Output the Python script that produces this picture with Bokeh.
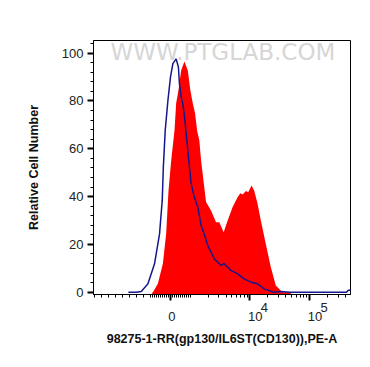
import math
from bokeh.plotting import figure
from bokeh.models import Range1d, FixedTicker, SingleIntervalTicker, Label, CustomJSTickFormatter
from bokeh.embed import file_html
from bokeh.resources import INLINE

# ---- data (x in display units: 1 unit = 1 decade, biexponential-like scale) ----
blue_x = [-0.70, -0.567, -0.483, -0.372, -0.262, -0.178, -0.133, -0.115, -0.083, -0.038,
          0.005, 0.045, 0.10, 0.138, 0.155, 0.183, 0.212, 0.238, 0.295, 0.35,
          0.40, 0.462, 0.517, 0.60, 0.628, 0.738, 0.85, 0.90, 1.017, 1.128,
          1.238, 1.35, 1.462, 1.572, 1.733, 1.85, 2.0, 2.95, 2.98, 3.03]
blue_y = [0, 0, 0.3, 3.5, 11.9, 24.4, 38.4, 52, 67.7, 80.2,
          90, 95.6, 97.6, 94.1, 87.2, 81.6, 78.8, 73.9, 59.3, 45.5,
          40, 35.6, 28, 22, 19.5, 14, 11.2, 12, 9.1, 7.7,
          5.6, 4.2, 3.5, 1.4, 0, 0.3, 0, 0, 0.8, 0.8]

red_x = [-0.30, -0.288, -0.205, -0.122, -0.067, -0.028, 0.017, 0.072, 0.10, 0.138,
         0.183, 0.238, 0.295, 0.338, 0.378, 0.417, 0.45, 0.488, 0.517, 0.60,
         0.683, 0.767, 0.822, 0.895, 0.962, 1.045, 1.128, 1.172, 1.212, 1.267,
         1.305, 1.362, 1.405, 1.462, 1.517, 1.60, 1.683, 1.767, 1.878, 2.017]
red_y = [0, 0, 3.6, 12.0, 24.6, 42.5, 55.1, 67.7, 79, 84.4,
         92.8, 96.5, 92.8, 84.4, 79, 74.8, 67.7, 63.5, 55.1, 37.7,
         34.2, 29.3, 29.3, 25.1, 30, 35.6, 39.7, 41.4, 40.9, 42.3,
         41.8, 44.6, 42.6, 37, 30, 20.2, 10.5, 2.8, 0, 0]

NB = "\u00a0"
major_values = [0, 1e4, 1e5]
major_bases = ["0", "10", "10"]
major_exps = ["", "4", "5"]
minor_values = ([-9e3, -8e3, -7e3, -6e3, -5e3, -4e3, -3e3, -2e3, -1e3]
                + [-900, -800, -700, -600, -500, -400, -300, -200, -100]
                + [100, 200, 300, 400, 500, 600, 700, 800, 900]
                + [1e3, 2e3, 3e3, 4e3, 5e3, 6e3, 7e3, 8e3, 9e3]
                + [2e4, 3e4, 4e4, 5e4, 6e4, 7e4, 8e4, 9e4]
                + [2e5, 3e5, 4e5])

X_LABEL = "98275-1-RR(gp130/IL6ST(CD130)),PE-A"
Y_LABEL = "Relative Cell Number"
WATERMARK = "WWW.PTGLAB.COM"

X_START, X_END = -1.283, 3.017
Y_START, Y_END = -0.96, 105.3


def disp(v):
    if v >= 1e3:
        return math.log10(v / 1e3) + 1.0 / 3.0
    if v >= -1e3:
        return v / 3e3
    return -1.0 / 3.0 + (v + 1e3) / 1e3 * 0.117


# two-line tick labels: raised exponent on the first line, base on the second
tick_texts = []
for b, e in zip(major_bases, major_exps):
    if e:
        tick_texts.append(NB * 8 + e + "\n" + NB * 3 + b)
    else:
        tick_texts.append(NB + "\n" + NB + b)

p = figure(width=362, height=363, output_backend="svg", toolbar_location=None,
           x_range=Range1d(X_START, X_END), y_range=Range1d(Y_START, Y_END),
           min_border_left=93, min_border_right=12, min_border_top=40, min_border_bottom=69)
p.grid.visible = False
p.outline_line_color = "black"
p.outline_line_width = 1
p.background_fill_color = "white"
p.border_fill_color = "white"

# watermark
p.add_layout(Label(x=0.883, y=100.5, text=WATERMARK, text_align="center", text_baseline="middle",
                   text_font="DejaVu Sans", text_font_size="23px", text_color="#d6d6d6",
                   level="underlay"))

p.varea(x=red_x, y1=Y_START, y2=red_y, fill_color="#ff0000", fill_alpha=1.0)
p.line(blue_x, blue_y, line_color="#16168c", line_width=1.5)

# x axis
xt = FixedTicker(ticks=[disp(v) for v in major_values], minor_ticks=[disp(v) for v in minor_values])
xa = p.xaxis[0]
xa.ticker = xt
xa.formatter = CustomJSTickFormatter(args=dict(labels=tick_texts), code="return labels[index];")
xa.major_label_text_font = "Liberation Sans"
xa.major_label_text_font_size = "13px"
xa.major_label_text_line_height = 0.64
xa.major_label_text_color = "#222222"
xa.major_label_standoff = -1
xa.major_tick_out = 6
xa.major_tick_in = 0
xa.major_tick_line_width = 2
xa.minor_tick_out = 3
xa.minor_tick_in = 0
xa.axis_line_color = "black"
xa.axis_label = X_LABEL
xa.axis_label_text_font = "Liberation Sans"
xa.axis_label_text_font_style = "bold"
xa.axis_label_text_font_size = "12.5px"
xa.axis_label_text_color = "#111111"
xa.axis_label_standoff = 5

# y axis
ya = p.yaxis[0]
ya.ticker = SingleIntervalTicker(interval=20, num_minor_ticks=5)
ya.major_tick_out = 6
ya.major_tick_in = 0
ya.major_tick_line_width = 2
ya.minor_tick_out = 3
ya.minor_tick_in = 0
ya.major_label_standoff = 4
ya.major_label_text_font = "Liberation Sans"
ya.major_label_text_font_size = "13px"
ya.major_label_text_color = "#222222"
ya.axis_label = Y_LABEL
ya.axis_label_text_font = "Liberation Sans"
ya.axis_label_text_font_style = "bold"
ya.axis_label_text_font_size = "12.5px"
ya.axis_label_text_color = "#111111"
ya.axis_label_standoff = 18

open("out.html", "w").write(file_html(p, INLINE))
